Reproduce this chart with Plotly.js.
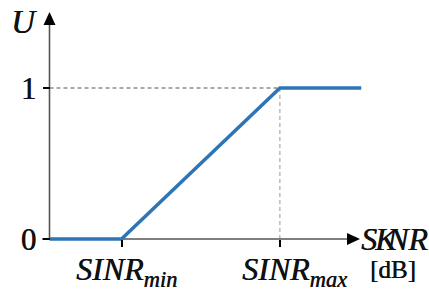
<!DOCTYPE html>
<html><head><meta charset="utf-8">
<script src="https://cdn.plot.ly/plotly-3.0.1.min.js"></script>
<style>html,body{margin:0;padding:0;background:#fff}#chart{width:429px;height:290px}</style>
</head><body><div id="chart"></div>
<script>
// ---- data ----
const curveX = [0, 1, 3.2, 4.33];
const curveY = [0, 0, 1, 1];
const xTickVals = [1, 3.2];
const xTickText = ['SINR<sub>min</sub>', 'SINR<sub>max</sub>'];
const yTickVals = [0, 1];
const yTickText = ['0', '1'];
const yAxisLabel = 'U';
const xAxisLabelParts = ['S', 'K', 'NR'];
const xUnitLabel = '[dB]';

// ---- layout helpers ----
const W = 429, H = 290;
const mL = 42, mR = 64, mT = 8, mB = 44;
const pxPerX = 72, x0px = 49.5;     // x=0 at pixel 49.5
const pxPerY = 151, y0px = 239;     // y=0 at pixel 239
const xr = [(mL - x0px) / pxPerX, (W - mR - x0px) / pxPerX];
const yr = [(y0px - (H - mB)) / pxPerY, (y0px - mT) / pxPerY];
const plotW = W - mL - mR, plotH = H - mT - mB;
const dx = px => px / pxPerX, dy = px => px / pxPerY;

const serif = 'Liberation Serif';
const txtCol = '#111111';
const shadow = '0.5px 0 0 #111111';
const axisCol = '#555555';

const trace = {
  x: curveX, y: curveY, type: 'scatter', mode: 'lines',
  line: {color: '#2e75b6', width: 3.5},
  hoverinfo: 'skip', showlegend: false
};

const xEnd = dx(347 - x0px), xTip = dx(360 - x0px);
const yEnd = dy(y0px - 25), yTip = dy(y0px - 12);
const shapes = [
  {type: 'line', xref: 'x', yref: 'y', x0: 0, x1: xTickVals[1], y0: 1, y1: 1,
   line: {color: '#555', width: 1, dash: '4px,3px'}, layer: 'below'},
  {type: 'line', xref: 'x', yref: 'y', x0: xTickVals[1], x1: xTickVals[1], y0: 0, y1: 1,
   line: {color: '#999', width: 1, dash: '4px,3px'}, layer: 'below'},
  {type: 'line', xref: 'x', yref: 'y', x0: xr[0], x1: xEnd, y0: 0, y1: 0,
   line: {color: axisCol, width: 1.6}, layer: 'below'},
  {type: 'line', xref: 'x', yref: 'y', x0: 0, x1: 0, y0: 0, y1: yEnd,
   line: {color: axisCol, width: 1.6}, layer: 'below'},
  {type: 'path', xref: 'x', yref: 'y',
   path: `M ${xEnd},${dy(6)} L ${xTip},0 L ${xEnd},${-dy(6)} Z`,
   fillcolor: '#000', line: {width: 0}},
  {type: 'path', xref: 'x', yref: 'y',
   path: `M ${-dx(6)},${yEnd} L 0,${yTip} L ${dx(6)},${yEnd} Z`,
   fillcolor: '#000', line: {width: 0}}
];

const annotations = [];
const xLabelShift = [5, 15];
xTickVals.forEach((v, i) => {
  annotations.push({x: v, y: 0, xref: 'x', yref: 'y', text: '<i>' + xTickText[i] + '</i>',
    showarrow: false, xanchor: 'center', yanchor: 'top', xshift: xLabelShift[i], yshift: -10,
    font: {family: serif, size: 32, color: txtCol, shadow: shadow}});
});
annotations.push({x: 0, y: yTip, xref: 'x', yref: 'y', text: '<i>' + yAxisLabel + '</i>',
  showarrow: false, xanchor: 'center', yanchor: 'middle', xshift: -26, yshift: -10,
  font: {family: serif, size: 33, color: txtCol, shadow: shadow}});
const partShift = [0, 13, 25];
xAxisLabelParts.forEach((t, i) => {
  annotations.push({x: xTip, y: 0, xref: 'x', yref: 'y', text: '<i>' + t + '</i>',
    showarrow: false, xanchor: 'left', yanchor: 'middle', xshift: partShift[i] - 1, yshift: 0,
    font: {family: serif, size: 32, color: txtCol, shadow: shadow}});
});
annotations.push({x: xTip, y: 0, xref: 'x', yref: 'y', text: xUnitLabel,
  showarrow: false, xanchor: 'center', yanchor: 'middle', xshift: 33, yshift: -30,
  font: {family: serif, size: 25, color: txtCol, shadow: shadow}});

const layout = {
  width: W, height: H,
  margin: {l: mL, r: mR, t: mT, b: mB, pad: 0},
  paper_bgcolor: '#fff', plot_bgcolor: '#fff',
  font: {family: serif},
  showlegend: false,
  xaxis: {range: xr, anchor: 'free', position: (H - mB - y0px) / plotH,
    showline: false, zeroline: false, showgrid: false,
    tickmode: 'array', tickvals: xTickVals, ticktext: xTickText, showticklabels: false,
    ticks: 'outside', ticklen: 7, tickwidth: 2, tickcolor: '#000', fixedrange: true},
  yaxis: {range: yr, anchor: 'free', position: (x0px - mL) / plotW,
    showline: false, zeroline: false, showgrid: false,
    tickmode: 'array', tickvals: yTickVals, ticktext: yTickText,
    ticks: 'outside', ticklen: 7, tickwidth: 2, tickcolor: '#000',
    tickfont: {family: serif, size: 31, color: txtCol, shadow: shadow}, fixedrange: true},
  shapes: shapes,
  annotations: annotations
};

Plotly.newPlot('chart', [trace], layout, {displayModeBar: false, staticPlot: true});
</script>
</body></html>
